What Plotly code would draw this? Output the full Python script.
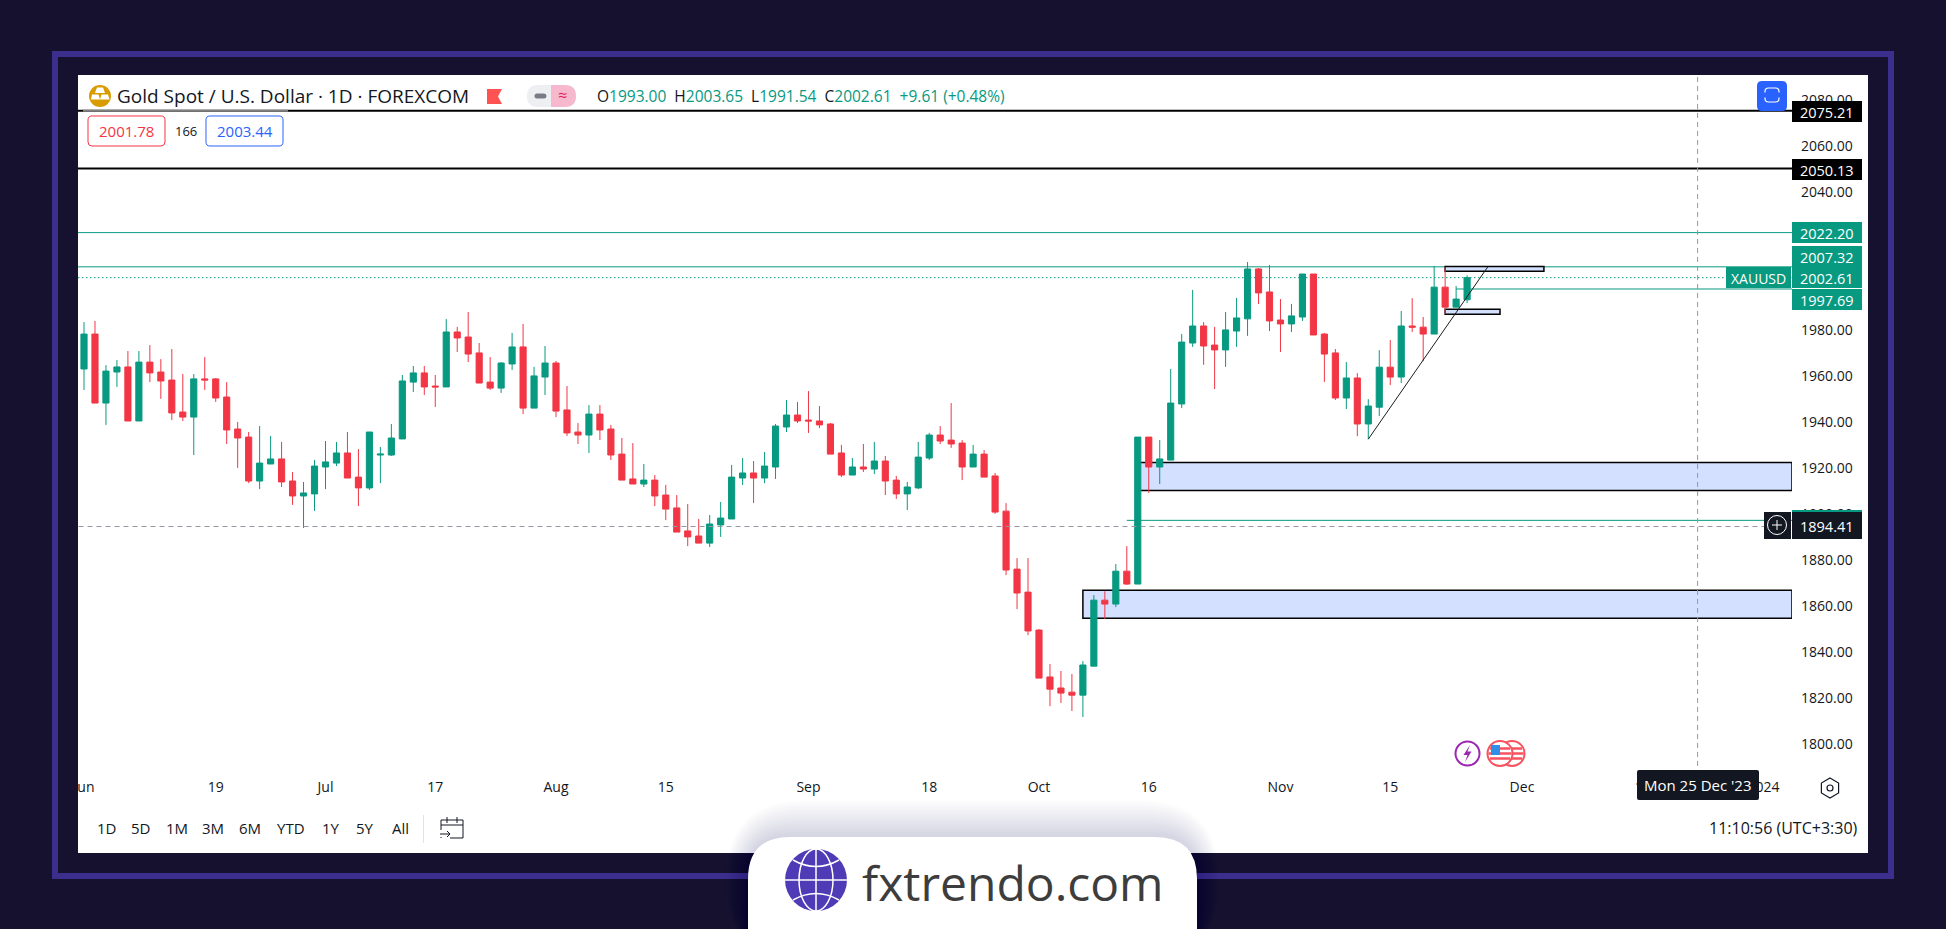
import plotly.graph_objects as go

W, H = 1946, 929

# ---------- data ----------
opens = [1962.9,1978.1,1948.1,1961.6,1963.8,1940.3,1965.9,1961.6,1958.1,1944.2,
1942.0,1958.6,1958.6,1950.7,1936.8,1933.3,1914.2,1921.6,1923.8,1914.2,
1907.7,1908.6,1920.3,1922.0,1926.4,1915.9,1911.2,1925.5,1925.5,1932.5,
1957.2,1961.2,1955.5,1955.1,1979.0,1976.8,1969.9,1957.2,1954.6,1965.1,
1972.5,1945.9,1959.4,1965.5,1945.1,1935.5,1934.2,1943.3,1936.8,1925.9,
1915.1,1912.9,1914.6,1908.1,1902.5,1892.5,1890.3,1887.2,1895.1,1897.7,
1915.5,1917.7,1915.5,1920.3,1937.7,1942.9,1940.7,1940.3,1939.0,1926.4,
1916.8,1920.3,1919.4,1922.9,1914.6,1908.6,1911.2,1924.2,1934.2,1932.0,
1930.7,1920.3,1925.9,1916.4,1901.1,1875.9,1865.9,1849.4,1829.0,1824.2,
1822.4,1821.1,1833.7,1862.4,1860.7,1875.0,1869.4,1933.3,1920.3,1923.3,
1947.7,1974.2,1981.6,1973.3,1971.2,1979.4,1984.7,2006.4,1996.4,1984.2,
1982.5,1985.5,2004.2,1978.1,1969.9,1950.3,1959.0,1939.0,1946.3,1963.7,
1959.4,1981.6,1981.1,1978.1,1998.5,1989.8,1993.00]
highs = [1983.3,1983.8,1964.6,1966.8,1970.7,1970.7,1973.3,1967.2,1971.6,1960.7,
1960.7,1968.1,1959.0,1957.2,1939.9,1935.5,1938.1,1933.8,1931.2,1918.1,
1913.8,1923.3,1931.6,1931.2,1935.5,1928.1,1935.5,1929.0,1939.0,1960.3,
1964.2,1964.2,1960.3,1984.6,1981.2,1987.7,1974.2,1968.1,1965.9,1978.6,
1982.5,1963.8,1972.9,1966.4,1955.5,1939.4,1947.2,1947.2,1938.6,1932.9,
1930.7,1921.6,1916.8,1912.5,1908.1,1904.2,1897.7,1899.4,1905.1,1921.2,
1924.2,1922.9,1926.8,1939.0,1949.4,1948.6,1953.3,1946.8,1939.4,1929.9,
1924.2,1930.3,1931.2,1925.1,1916.4,1913.8,1931.2,1935.1,1938.1,1948.1,
1932.0,1929.9,1927.7,1917.7,1904.6,1880.7,1880.7,1849.8,1834.6,1831.6,
1830.3,1835.9,1864.6,1866.3,1878.1,1885.9,1933.3,1933.3,1932.0,1962.9,
1978.1,1997.3,1983.3,1981.2,1987.7,1993.8,2009.4,2006.8,2008.1,1993.3,
1991.2,2004.2,2004.2,1978.6,1971.6,1965.9,1961.1,1949.8,1971.1,1975.5,
1988.1,1993.7,1985.5,2007.7,2007.2,1999.0,2003.65]
lows = [1953.8,1948.1,1938.6,1955.1,1940.3,1940.3,1957.2,1949.9,1940.7,1940.3,
1925.5,1953.8,1948.6,1930.3,1919.9,1913.3,1910.7,1921.6,1911.6,1903.8,
1893.8,1901.2,1910.7,1920.7,1915.5,1903.3,1910.3,1913.3,1925.1,1932.5,
1952.9,1951.6,1946.4,1955.1,1970.3,1965.9,1956.8,1953.8,1952.5,1962.5,
1943.3,1945.9,1951.6,1942.0,1933.8,1930.3,1926.4,1932.0,1923.3,1914.6,
1912.9,1911.6,1903.3,1897.2,1892.0,1885.9,1887.2,1885.5,1889.9,1897.7,
1912.5,1904.6,1913.3,1915.1,1935.5,1939.4,1935.1,1937.2,1925.9,1915.9,
1916.8,1918.1,1917.2,1908.1,1906.4,1901.6,1910.7,1923.3,1930.3,1928.6,
1914.6,1920.3,1915.9,1899.9,1873.3,1858.5,1847.2,1828.5,1816.3,1817.7,
1814.2,1811.6,1833.7,1854.2,1859.4,1869.0,1869.4,1909.0,1912.9,1923.3,
1945.9,1972.5,1964.7,1954.2,1963.8,1972.5,1977.3,1991.2,1979.4,1970.3,
1979.0,1983.8,1977.7,1957.3,1949.4,1945.5,1933.7,1932.4,1942.4,1955.9,
1956.8,1979.0,1966.3,1978.1,1986.8,1989.8,1991.54]
closes = [1978.1,1948.1,1962.0,1963.8,1940.3,1965.9,1961.2,1957.7,1943.8,1942.0,
1958.6,1958.1,1950.3,1936.4,1932.9,1914.2,1922.0,1923.8,1913.8,1907.7,
1909.0,1920.7,1922.5,1926.4,1915.5,1911.2,1935.5,1925.9,1932.9,1957.7,
1961.2,1955.1,1955.1,1979.0,1976.4,1969.4,1956.8,1954.6,1965.5,1972.5,
1945.9,1959.9,1965.5,1944.6,1935.1,1934.2,1943.3,1936.4,1925.5,1914.6,
1912.9,1914.6,1907.7,1902.0,1892.0,1889.9,1887.2,1895.5,1898.1,1915.9,
1917.7,1915.5,1920.7,1938.1,1942.9,1940.3,1940.3,1938.6,1925.9,1916.8,
1920.3,1919.4,1922.9,1914.2,1908.6,1911.6,1924.6,1934.2,1931.6,1930.3,
1920.3,1925.9,1915.9,1900.7,1875.5,1865.5,1849.0,1828.5,1823.7,1822.0,
1821.1,1834.2,1862.4,1860.7,1875.0,1869.4,1933.3,1920.3,1923.8,1948.1,
1974.6,1981.6,1972.9,1971.2,1979.9,1985.1,2006.4,1996.0,1983.8,1982.5,
1986.0,2004.2,1977.7,1969.4,1950.3,1959.0,1939.0,1946.8,1963.7,1959.4,
1981.6,1981.1,1978.1,1998.5,1989.8,1993.3,2002.61]
bars = list(range(len(opens)))

x_tick_bars = [0,12,22,32,43,53,66,77,87,97,109,119,131,142,153]
x_tick_labels = ["Jun","19","Jul","17","Aug","15","Sep","18","Oct","16","Nov","15","Dec","18","2024"]
y_ticks = [1800,1820,1840,1860,1880,1900,1920,1940,1960,1980,2000,2020,2040,2060,2080]

black_levels = [2075.21, 2050.13]
green_levels = [2022.20, 2007.32]
last_price = 2002.61
partial_levels = [(125, 1997.69), (95, 1897.1)]
crosshair_price = 1894.41
crosshair_bar = 147
zones = [(96, None, 1910.1, 1922.3), (91, None, 1854.5, 1866.7),
         (124, 133, 2005.4, 2007.5), (124, 129, 1986.7, 1988.85)]
trend_start = (117, 1932.4)
trend_end = (127.9, 2007.4)

GREEN, RED, INK = "#089981", "#f23645", "#131722"
BG, FRAME = "#15112f", "#3c2e8c"
FONT = "Open Sans"

def fx(x): return x / W
def fy(y): return 1 - y / H

shapes, annos = [], []

def rect(x0, y0, x1, y1, fill, line=None, lw=0, layer="above"):
    shapes.append(dict(type="rect", xref="paper", yref="paper", x0=fx(x0), x1=fx(x1), y0=fy(y0), y1=fy(y1),
                       fillcolor=fill, line=dict(color=line or fill, width=lw), layer=layer))

def P(x, y): return f"{fx(x):.6f},{fy(y):.6f}"

def rr_path(x0, y0, x1, y1, r):
    return (f"M{P(x0+r,y0)} L{P(x1-r,y0)} Q{P(x1,y0)} {P(x1,y0+r)} L{P(x1,y1-r)} Q{P(x1,y1)} {P(x1-r,y1)} "
            f"L{P(x0+r,y1)} Q{P(x0,y1)} {P(x0,y1-r)} L{P(x0,y0+r)} Q{P(x0,y0)} {P(x0+r,y0)} Z")

def path(d, fill="rgba(0,0,0,0)", line="rgba(0,0,0,0)", lw=0, layer="above"):
    shapes.append(dict(type="path", xref="paper", yref="paper", path=d, fillcolor=fill,
                       line=dict(color=line, width=lw), layer=layer))

def circle(cx, cy, rx, fill="rgba(0,0,0,0)", line="rgba(0,0,0,0)", lw=0, ry=None):
    ry = ry or rx
    shapes.append(dict(type="circle", xref="paper", yref="paper", x0=fx(cx-rx), x1=fx(cx+rx), y0=fy(cy-ry), y1=fy(cy+ry),
                       fillcolor=fill, line=dict(color=line, width=lw), layer="above"))

def seg(x0, y0, x1, y1, color, lw=1):
    shapes.append(dict(type="line", xref="paper", yref="paper", x0=fx(x0), x1=fx(x1), y0=fy(y0), y1=fy(y1),
                       line=dict(color=color, width=lw), layer="above"))

def text(x, y, s, size=14, color=INK, anchor="center", family=FONT):
    annos.append(dict(xref="paper", yref="paper", x=fx(x), y=fy(y), text=s, showarrow=False, xanchor=anchor, yanchor="middle",
                      font=dict(size=size, color=color, family=family), borderpad=0))

def data_hline(level, x0, color, width, dash="solid", layer="below"):
    if x0 is None:
        shapes.append(dict(type="line", xref="x domain", yref="y", x0=0, x1=1, y0=level, y1=level,
                           line=dict(color=color, width=width, dash=dash), layer=layer))
    else:
        shapes.append(dict(type="line", xref="x", yref="y", x0=x0, x1=155.6, y0=level, y1=level,
                           line=dict(color=color, width=width, dash=dash), layer=layer))

# ---------- page furniture ----------
rect(78, 75, 1868, 853, "#ffffff", layer="below")
shapes.append(dict(type="rect", xref="paper", yref="paper", x0=fx(55), x1=fx(1891), y0=fy(54), y1=fy(876),
                   line=dict(color=FRAME, width=6), layer="below"))

# ---------- levels and zones ----------
for lv in green_levels:
    data_hline(lv, None, GREEN, 1)
data_hline(last_price, None, GREEN, 1, "1.5px,2.5px")
for x0, lv in partial_levels:
    data_hline(lv, x0, GREEN, 1)
for lv in black_levels:
    data_hline(lv, None, "#000000", 2)
for x0, x1, lo, hi in zones:
    shapes.append(dict(type="rect", xref="x", yref="y", x0=x0, x1=155.6 if x1 is None else x1, y0=lo, y1=hi,
                       fillcolor="#d3e0ff", line=dict(color="#000000", width=1.5), layer="below"))
shapes.append(dict(type="line", xref="x", yref="y", x0=trend_start[0], y0=trend_start[1], x1=trend_end[0], y1=trend_end[1],
                   line=dict(color="#1c1c1c", width=1), layer="above"))
shapes.append(dict(type="line", xref="x", yref="y", x0=crosshair_bar, x1=crosshair_bar, y0=1786.4, y1=2090.7,
                   line=dict(color="#9598a1", width=1, dash="5px,4px"), layer="above"))
shapes.append(dict(type="line", xref="x", yref="y", x0=-0.5, x1=153.5, y0=crosshair_price, y1=crosshair_price,
                   line=dict(color="#9598a1", width=1, dash="5px,4px"), layer="above"))

# cover the part of the first date label that runs off the panel
rect(60, 770, 78, 800, BG)

# ---------- price tags ----------
def tag(y0, y1, s, fill):
    rect(1792, y0, 1862, y1, fill)
    text(1827, (y0 + y1) / 2 + 0.5, s, 14.5, "#ffffff")

tag(101, 122, "2075.21", "#000000")
tag(159, 180, "2050.13", "#000000")
tag(222, 243, "2022.20", GREEN)
tag(246, 267, "2007.32", GREEN)
tag(267, 288, "2002.61", GREEN)
tag(289, 310, "1997.69", GREEN)
rect(1726, 267, 1791, 288, GREEN)
text(1758.5, 278, "XAUUSD", 14, "#ffffff")
seg(1792, 288.5, 1862, 288.5, "#ffffff", 1)
rect(1792, 510, 1862, 513, GREEN)
tag(512, 539, "1894.41", INK)
rect(1764, 512, 1791, 539, INK)
circle(1777, 525, 9.5, line="#ffffff", lw=1)
seg(1772, 525, 1782, 525, "#ffffff", 1)
seg(1777, 520, 1777, 530, "#ffffff", 1)

# ---------- header ----------
seg(83, 110.7, 288, 110.7, "#808080", 2)
circle(100, 96, 11, fill="#d99c00")
path(f"M{P(97,87.5)} L{P(103,87.5)} L{P(105,93)} L{P(95,93)} Z", fill="#ffffff")
path(f"M{P(92,94.5)} L{P(98.5,94.5)} L{P(100,99.5)} L{P(91,99.5)} Z", fill="#ffffff")
path(f"M{P(101.5,94.5)} L{P(108,94.5)} L{P(109.5,99.5)} L{P(100,99.5)} Z", fill="#ffffff")
text(116, 96, "Gold Spot / U.S. Dollar · 1D · FOREXCOM", 19, INK, "left")
path(f"M{P(487,89)} L{P(502,89)} L{P(498,96.5)} L{P(502,104)} L{P(487,104)} Z", fill="#ff5252")
path(f"M{P(551,85)} L{P(538,85)} Q{P(527,85)} {P(527,96)} Q{P(527,107)} {P(538,107)} L{P(551,107)} Z", fill="#eeeff2")
path(f"M{P(551,85)} L{P(565,85)} Q{P(576,85)} {P(576,96)} Q{P(576,107)} {P(565,107)} L{P(551,107)} Z", fill="#f5b8cc")
path(rr_path(534.5, 93.5, 546.5, 98.5, 2.5), fill="#787b86")
text(562.5, 95, "≈", 16, "#e91e63")
v = GREEN
text(596, 96, f"O<span style='color:{v}'>1993.00</span>  H<span style='color:{v}'>2003.65</span>  "
              f"L<span style='color:{v}'>1991.54</span>  C<span style='color:{v}'>2002.61</span>  "
              f"<span style='color:{v}'>+9.61 (+0.48%)</span>", 15.5, INK, "left")
path(rr_path(88, 116, 165, 146, 4), fill="#ffffff", line=RED, lw=1)
text(126.5, 131, "2001.78", 15, RED)
text(186, 131, "166", 13, INK)
path(rr_path(206, 116, 283, 146, 4), fill="#ffffff", line="#2962ff", lw=1)
text(244.5, 131, "2003.44", 15, "#2962ff")
path(rr_path(1757, 81, 1787, 111, 5), fill="#2962ff")
path(rr_path(1765, 88, 1779, 102, 3.5), line="#ffffff", lw=1.2)
seg(1763, 95, 1781, 95, "#2962ff", 5)

# ---------- bottom toolbar ----------
for xc, s in [(106,"1D"),(140.5,"5D"),(176.6,"1M"),(213,"3M"),(250,"6M"),(291,"YTD"),(331,"1Y"),(365,"5Y"),(400,"All")]:
    text(xc, 828, s, 15, INK)
seg(423.5, 815, 423.5, 843, "#e0e3eb", 1)
path(f"M{P(441,838)} L{P(441,837)} M{P(441,830)} L{P(441,820)} L{P(463,820)} L{P(463,838)} L{P(450,838)} "
     f"M{P(441,825)} L{P(463,825)} M{P(447,817)} L{P(447,823)} M{P(457,817)} L{P(457,823)} "
     f"M{P(440,834)} L{P(450,834)} M{P(447,831)} L{P(450,834)} L{P(447,837)}", line=INK, lw=1)
text(1859, 828, "11:10:56 (UTC+3:30)", 16, INK, "right")
hexr = 10
path(f"M{P(1830,788-hexr)} L{P(1838.6,788-hexr/2)} L{P(1838.6,788+hexr/2)} L{P(1830,788+hexr)} "
     f"L{P(1821.4,788+hexr/2)} L{P(1821.4,788-hexr/2)} Z", line=INK, lw=1.2)
circle(1830, 788, 3, line=INK, lw=1.2)

# ---------- event markers ----------
circle(1467.5, 753.5, 12, fill="#ffffff", line="#9c27b0", lw=2)
path(f"M{P(1470,745)} L{P(1463.5,755)} L{P(1467.5,755)} L{P(1465,762)} L{P(1471.5,751.5)} L{P(1467.5,751.5)} Z", fill="#9c27b0")
for cx in (1512, 1500):
    circle(cx, 753.5, 12.5, fill="#ffffff", line="#f7525f", lw=2)
    for dy, half in [(-5, 10), (0, 11.5), (5, 10)]:
        seg(cx - half, 753.5 + dy, cx + half, 753.5 + dy, "#f7525f", 2.5)
rect(1491, 745, 1500, 755, "#2f8fe6")

# ---------- date tooltip ----------
path(rr_path(1637, 770, 1759, 800, 2), fill=INK)
text(1698, 785, "Mon 25 Dec '23", 15, "#ffffff")

# ---------- brand tab ----------
for i in range(1, 15):
    d = 2.6 * i
    path(rr_path(748 - d * 0.6, 837 - d, 1197 + d * 0.6, 960, 42 + d), fill="rgba(40,40,80,0.012)")
path(f"M{P(748,940)} L{P(748,879)} Q{P(748,837)} {P(790,837)} L{P(1155,837)} Q{P(1197,837)} {P(1197,879)} L{P(1197,940)} Z", fill="#ffffff")
circle(816, 880, 31, fill="#4f3bb5")
seg(816, 849, 816, 911, "#ffffff", 1.5)
seg(785, 880, 847, 880, "#ffffff", 1.5)
circle(816, 880, 17, line="#ffffff", lw=1.5, ry=31)
path(f"M{P(793,860)} Q{P(816,873)} {P(839,860)}", line="#ffffff", lw=1.5)
path(f"M{P(793,900)} Q{P(816,887)} {P(839,900)}", line="#ffffff", lw=1.5)
text(861, 882, "fxtrendo.com", 48, "#3d3d3d", "left", "Open Sans")

# ---------- chart ----------
fig = go.Figure(go.Candlestick(
    x=bars, open=opens, high=highs, low=lows, close=closes,
    increasing=dict(line=dict(color=GREEN, width=1), fillcolor=GREEN),
    decreasing=dict(line=dict(color=RED, width=1), fillcolor=RED),
    whiskerwidth=0, showlegend=False, hoverinfo="skip"))

fig.update_layout(
    width=W, height=H, margin=dict(l=0, r=0, t=0, b=0), showlegend=False, autosize=False,
    paper_bgcolor=BG, plot_bgcolor="rgba(0,0,0,0)", boxgap=0.2,
    font=dict(family=FONT, size=14, color=INK),
    shapes=shapes, annotations=annos,
    xaxis=dict(domain=[fx(78), fx(1792)], range=[-0.547, 155.6], rangeslider=dict(visible=False), automargin=False,
               tickmode="array", tickvals=x_tick_bars, ticktext=x_tick_labels, showgrid=False, zeroline=False,
               showline=False, ticks="", ticklabelstandoff=2, tickangle=0,
               tickfont=dict(family=FONT, size=14, color=INK)),
    yaxis=dict(domain=[fy(775), fy(75)], range=[1786.38, 2090.73], side="right", automargin=False,
               tickmode="array", tickvals=y_ticks, ticktext=[f"{t:.2f}" for t in y_ticks],
               showgrid=False, zeroline=False, showline=False, ticks="", ticklabelstandoff=8,
               tickfont=dict(family=FONT, size=14, color=INK)),
)

fig.write_html("out.html", config=dict(displayModeBar=False),
               post_script="document.documentElement.style.margin='0';document.body.style.margin='0';document.body.style.overflow='hidden';")
